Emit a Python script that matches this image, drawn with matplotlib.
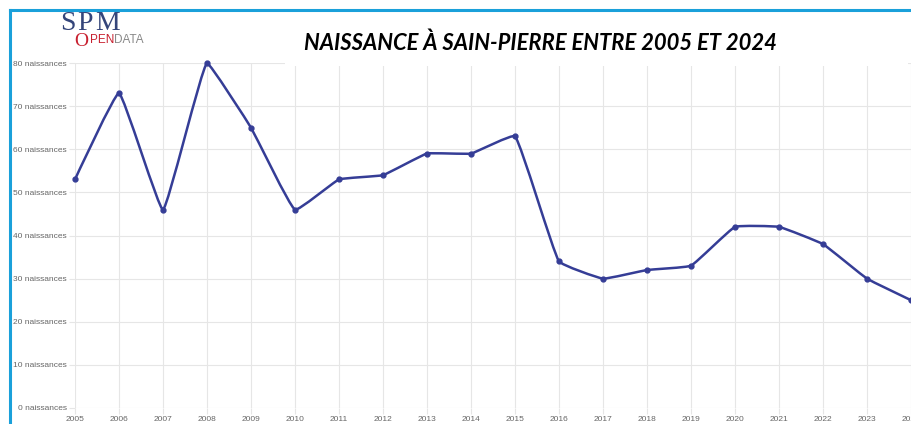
import numpy as np
import matplotlib
matplotlib.use("Agg")
import matplotlib.pyplot as plt
from matplotlib.path import Path
from matplotlib.patches import PathPatch, Rectangle

years = list(range(2005, 2025))
births = [53, 73, 46, 80, 65, 46, 53, 54, 59, 59, 63, 34, 30, 32, 33, 42, 42, 38, 30, 25]
y_ticks = [0, 10, 20, 30, 40, 50, 60, 70, 80]
y_labels = [f"{v} naissances" for v in y_ticks]
title = "NAISSANCE À SAIN-PIERRE ENTRE 2005 ET 2024"

line_color = "#353d96"
grid_color = "#e6e6e6"
frame_color = "#1aa0da"

W, H = 912, 424
fig = plt.figure(figsize=(W / 100, H / 100), dpi=100)

# axes placed in pixel units
left, right, top, bottom = 75, 912, 63, 408
ax = fig.add_axes([left / W, (H - bottom) / H, (right - left) / W, (bottom - top) / H])
x_max = 2024 + (912 - 911) / 44
ax.set_xlim(2005, x_max)
ax.set_ylim(0, 80)


def smooth_path(xs, ys, sx, sy, tension=0.1):
    # Chart.js style bezier control points, computed in pixel space
    px = np.array(xs, float) * sx
    py = np.array(ys, float) * sy
    n = len(px)
    cp_prev = [(px[0], py[0])]
    cp_next = []
    for i in range(n):
        if i == 0 or i == n - 1:
            if i == 0:
                cp_next.append((px[0], py[0]))
            else:
                cp_prev.append((px[i], py[i]))
            continue
        d01 = np.hypot(px[i] - px[i - 1], py[i] - py[i - 1])
        d12 = np.hypot(px[i + 1] - px[i], py[i + 1] - py[i])
        s01 = d01 / (d01 + d12)
        s12 = d12 / (d01 + d12)
        fa, fb = tension * s01, tension * s12
        dx, dy = px[i + 1] - px[i - 1], py[i + 1] - py[i - 1]
        cp_prev.append((px[i] - fa * dx, py[i] - fa * dy))
        cp_next.append((px[i] + fb * dx, py[i] + fb * dy))
    verts = [(px[0], py[0])]
    codes = [Path.MOVETO]
    for i in range(1, n):
        verts += [cp_next[i - 1], cp_prev[i], (px[i], py[i])]
        codes += [Path.CURVE4] * 3
    verts = [(vx / sx, min(vy, 80 * sy) / sy) for vx, vy in verts]
    return Path(verts, codes)


sx = (right - left) / (x_max - 2005)
sy = (bottom - top) / 80
path = smooth_path(years, births, sx, sy)
ax.add_patch(PathPatch(path, fill=False, edgecolor=line_color, lw=1.8, zorder=3,
                       clip_on=False, joinstyle="round"))
ax.plot(years, births, "o", color=line_color, ms=3.5, zorder=4, clip_on=False)

ax.set_xticks(years)
ax.set_xticklabels([str(y) for y in years])
ax.set_yticks(y_ticks)
ax.set_yticklabels(y_labels)
ax.grid(True, color=grid_color, lw=0.8)
ax.set_axisbelow(True)
for s in ax.spines.values():
    s.set_visible(False)
ax.tick_params(axis="both", colors=grid_color, length=4, width=0.8,
               labelcolor="#666666", labelsize=6, pad=2)
for lab in ax.get_xticklabels() + ax.get_yticklabels():
    lab.set_family("Liberation Sans")

# white title band hiding the top of the grid on the right
fig.add_artist(Rectangle((285 / W, 1 - 66 / H), (908 - 285) / W, 53 / H,
                         facecolor="white", edgecolor="none", zorder=2.5))

# blue frame of the screenshot
fig.add_artist(plt.Line2D([10 / W, 10 / W], [0, 1 - 10 / H], color=frame_color, lw=2.2, zorder=5))
fig.add_artist(plt.Line2D([10 / W, 1], [1 - 10 / H, 1 - 10 / H], color=frame_color, lw=2.2, zorder=5))

# title
fig.text(540 / W, 1 - 43 / H, title, ha="center", va="center", fontsize=15.8,
         fontweight="bold", fontstyle="italic", family="Lato", color="black", zorder=3)

# logo
logo_blue = "#34457a"
logo_red = "#c8202f"
fig.text(60 / W, 1 - 23 / H, "S", fontsize=20, family="Liberation Serif", color=logo_blue,
         va="center", ha="left")
fig.text(77 / W, 1 - 23 / H, "P", fontsize=20, family="Liberation Serif", color=logo_blue,
         va="center", ha="left")
fig.text(95 / W, 1 - 23 / H, "M", fontsize=20, family="Liberation Serif", color=logo_blue,
         va="center", ha="left")
fig.text(74 / W, 1 - 42 / H, "O", fontsize=14, family="Liberation Serif", color=logo_red,
         va="center", ha="left")
fig.text(90 / W, 1 - 40 / H, "PEN", fontsize=8.5, family="Liberation Sans", color=logo_red,
         va="center", ha="left")
fig.text(114 / W, 1 - 40 / H, "DATA", fontsize=8.5, family="Liberation Sans", color="#888888",
         va="center", ha="left")

fig.savefig("out.png", dpi=100)
